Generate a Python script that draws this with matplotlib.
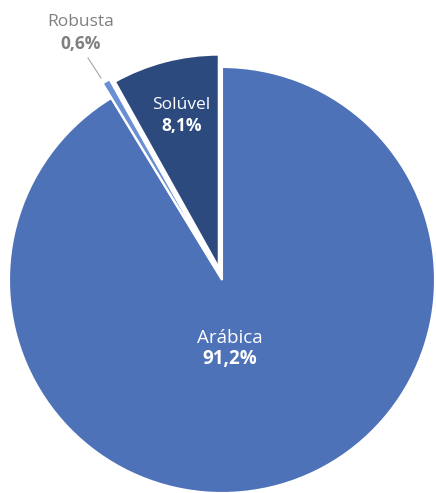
import matplotlib
matplotlib.use("Agg")
import matplotlib.pyplot as plt

# Café exports by type (share, %)
categories = ["Arábica", "Robusta", "Solúvel"]
shares = [91.2, 0.6, 8.1]
share_labels = ["91,2%", "0,6%", "8,1%"]
colors = ["#4E72B8", "#6A8FD2", "#2D4A7E"]
explode = [0.0, 0.08, 0.06]

plt.rcParams["font.family"] = ["Open Sans", "DejaVu Sans"]

fig = plt.figure(figsize=(4.36, 4.93), dpi=100)
ax = fig.add_axes([0, 0, 1, 1])

ax.pie(shares, colors=colors, explode=explode, startangle=90,
       counterclock=False, radius=1.0,
       wedgeprops=dict(edgecolor="white", linewidth=1.5))

# pixel geometry: centre at (222, 280), radius 213 px
scale = 213.0
cx, cy = 222.0, 280.0
ax.set_xlim(-cx / scale, (436 - cx) / scale)
ax.set_ylim(-(493 - cy) / scale, cy / scale)
ax.set_aspect("equal")
ax.axis("off")

# Arábica label
ax.text(0.038, -0.27, categories[0], ha="center", va="center",
        color="white", fontsize=13.5)
ax.text(0.038, -0.37, share_labels[0], ha="center", va="center",
        color="white", fontsize=13.5, fontweight="bold")

# Solúvel label
ax.text(-0.19, 0.82, categories[2], ha="center", va="center",
        color="white", fontsize=12.5)
ax.text(-0.19, 0.725, share_labels[2], ha="center", va="center",
        color="white", fontsize=12.5, fontweight="bold")

# Robusta label with leader line
ax.text(-0.665, 1.21, categories[1], ha="center", va="center",
        color="#7F7F7F", fontsize=12.5)
ax.text(-0.665, 1.11, share_labels[1], ha="center", va="center",
        color="#7F7F7F", fontsize=12.5, fontweight="bold")
ax.plot([(88 - cx) / scale, (101 - cx) / scale],
        [(cy - 58) / scale, (cy - 78) / scale],
        color="#A6A6A6", linewidth=0.8)

fig.savefig("out.png", dpi=100)
